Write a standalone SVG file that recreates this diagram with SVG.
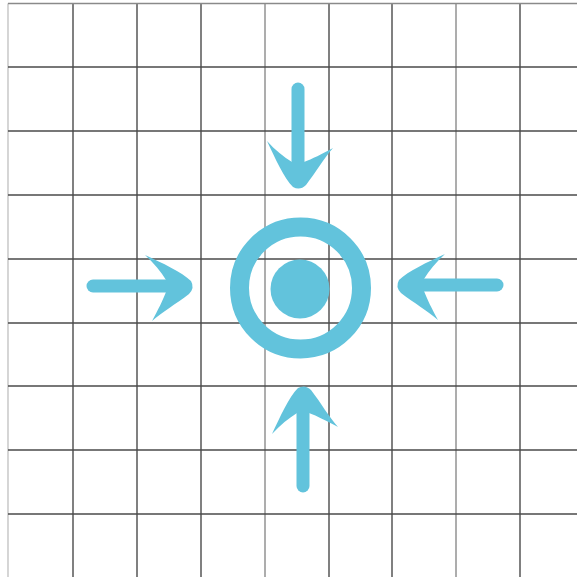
<svg xmlns="http://www.w3.org/2000/svg" width="577" height="577" viewBox="0 0 577 577">
<defs>
<style>
.g{stroke:#4a4a4a;stroke-width:1.4;fill:none}
.gl{stroke:#8a8a8a;stroke-width:1.4;fill:none}
.gx{stroke:#c4c4c4;stroke-width:1.4;fill:none}
.b{fill:#62c3dc}
.sh{stroke:#62c3dc;stroke-width:13;stroke-linecap:round;fill:none}
</style>
<g id="arr">
<line class="sh" x1="-99" y1="0" x2="-20" y2="0"/>
<path class="b" d="M-47,-31 C-30,-23 -10,-14 -1,-5 Q3,2 -3,8 C-16,18 -30,26 -40,35 C-34,24 -29,14 -26,6 L-26,-6 C-31,-14 -38,-23 -47,-31 Z"/>
</g>
</defs>
<rect width="577" height="577" fill="#ffffff"/>
<g id="grid">
<line class="gx" x1="8" y1="3.5" x2="8" y2="577"/>
<line class="g" x1="73" y1="3.5" x2="73" y2="577"/>
<line class="g" x1="137" y1="3.5" x2="137" y2="577"/>
<line class="g" x1="201" y1="3.5" x2="201" y2="577"/>
<line class="gl" x1="265" y1="3.5" x2="265" y2="577"/>
<line class="g" x1="329" y1="3.5" x2="329" y2="577"/>
<line class="g" x1="392" y1="3.5" x2="392" y2="577"/>
<line class="gl" x1="456" y1="3.5" x2="456" y2="577"/>
<line class="g" x1="520" y1="3.5" x2="520" y2="577"/>
<line class="gl" x1="8" y1="3.5" x2="577" y2="3.5"/>
<line class="g" x1="8" y1="67" x2="577" y2="67"/>
<line class="g" x1="8" y1="131" x2="577" y2="131"/>
<line class="g" x1="8" y1="195" x2="577" y2="195"/>
<line class="g" x1="8" y1="259" x2="577" y2="259"/>
<line class="g" x1="8" y1="323" x2="577" y2="323"/>
<line class="g" x1="8" y1="386" x2="577" y2="386"/>
<line class="g" x1="8" y1="450" x2="577" y2="450"/>
<line class="g" x1="8" y1="514" x2="577" y2="514"/>
</g>
<g id="target">
<circle cx="300.5" cy="288" r="61" fill="none" stroke="#62c3dc" stroke-width="19"/>
<circle class="b" cx="300" cy="289" r="29.5"/>
</g>
<g id="connectors">
<use href="#arr" transform="translate(192,286)"/>
<use href="#arr" transform="translate(398,285) scale(-1,1)"/>
<use href="#arr" transform="translate(298,188) rotate(90) scale(1,-1)"/>
<use href="#arr" transform="translate(303,387) rotate(-90)"/>
</g>
</svg>
